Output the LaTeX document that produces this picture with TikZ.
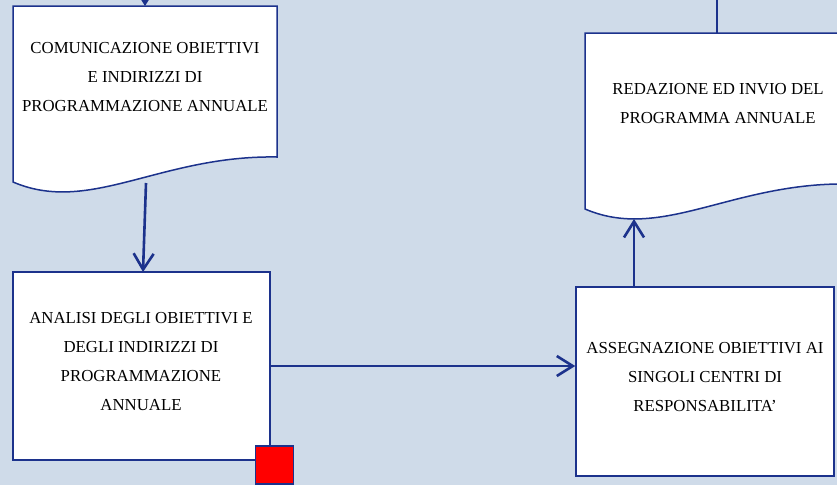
\documentclass[tikz,border=0pt]{standalone}
\usepackage{fontspec}
\setmainfont{Liberation Serif}
\usetikzlibrary{arrows.meta}
\definecolor{bg}{RGB}{207,219,233}
\definecolor{ln}{RGB}{28,50,140}
\begin{document}
\begin{tikzpicture}[x=1pt,y=-1pt,
  boxline/.style={draw=ln, fill=white, line width=1.5pt},
  txt/.style={align=center, font=\fontsize{16.8}{29}\selectfont, text=black},
  conn/.style={draw=ln, line width=2.6pt, -{Straight Barb[length=16pt,width=20pt]}},
  plain/.style={draw=ln, line width=2.6pt}]
\useasboundingbox (0,0) rectangle (837,485);
\clip (0,0) rectangle (837,485);
\fill[bg] (0,0) rectangle (837,485);
% document 1
\draw[boxline] (13,6) -- (13,182) .. controls (90,215) and (160,155) .. (277,157) -- (277,6) -- cycle;
\node[txt] (d1) at (145,77) {COMUNICAZIONE OBIETTIVI\\E INDIRIZZI DI\\PROGRAMMAZIONE ANNUALE};
\coordinate (d1t) at (145,6);
\coordinate (d1b) at (146,183);
\coordinate (topin) at (145,-12);
% document 4
\draw[boxline] (585,33) -- (585,209) .. controls (662,242) and (732,182) .. (849,184) -- (849,33) -- cycle;
\node[txt] (d4) at (718,103.5) {REDAZIONE ED INVIO DEL\\PROGRAMMA ANNUALE};
\coordinate (d4t) at (717,33);
\coordinate (d4b) at (634,219);
\coordinate (topout) at (717,-5);
% boxes
\node[boxline, minimum width=257pt, minimum height=188pt, inner sep=0pt] (b2) at (141.5,366) {};
\node[txt] (t2) at (141,361.5) {ANALISI DEGLI OBIETTIVI E\\DEGLI INDIRIZZI DI\\PROGRAMMAZIONE\\ANNUALE};
\node[boxline, minimum width=258pt, minimum height=189pt, inner sep=0pt] (b3) at (705,381.5) {};
\node[txt] (t3) at (705,377.5) {ASSEGNAZIONE OBIETTIVI AI\\SINGOLI CENTRI DI\\RESPONSABILITA’};
\coordinate (b2in) at (143,272);
\coordinate (b3out) at (634,287);
% red square
\node[draw=ln, fill=red, line width=1.5pt, minimum size=38pt, inner sep=0pt] (sq) at (274.5,465) {};
% connectors
\draw[conn] (topin) -- (d1t);
\draw[conn] (d1b) -- (b2in);
\draw[conn] (b2.east) -- (b2.east -| b3.west);
\draw[conn] (b3out) -- (d4b);
\draw[plain] (topout) -- (d4t);
\end{tikzpicture}
\end{document}
